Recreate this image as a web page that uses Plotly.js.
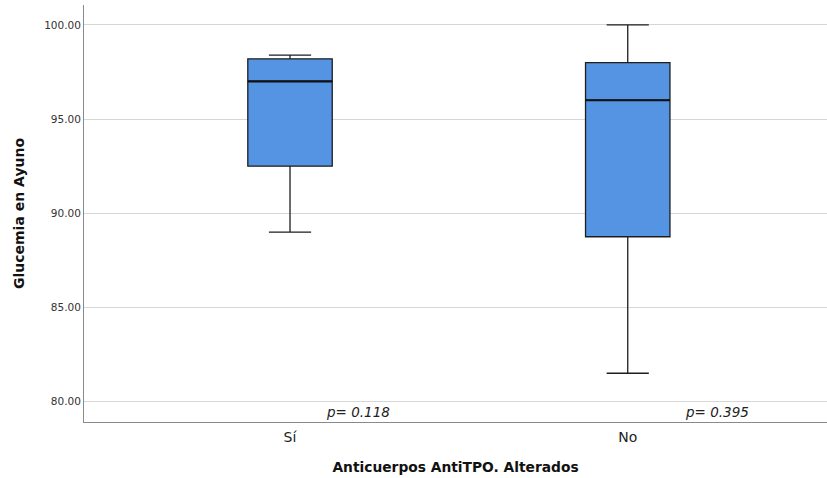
<!DOCTYPE html>
<html>
<head>
<meta charset="utf-8">
<script src="https://cdn.plot.ly/plotly-3.0.1.min.js"></script>
<style>
  html, body { margin: 0; padding: 0; background: #fff; }
  #chart { width: 827px; height: 478px; }
</style>
</head>
<body>
<div id="chart"></div>
<script>
// Glucemia en ayuno por grupo de anticuerpos AntiTPO alterados
const groups      = ['Sí', 'No'];
const groupPos    = [0, 1];
const lowerFence  = [89.0, 81.5];
const q1          = [92.5, 88.75];
const medians     = [97.0, 96.0];
const q3          = [98.2, 98.0];
const upperFence  = [98.4, 100.0];
const pValues     = ['0.118', '0.395'];
const yTicks      = [80, 85, 90, 95, 100];

const boxWidth = 0.25;
const fillColor = '#5594e3';

const boxTrace = {
  type: 'box',
  x: groupPos,
  q1: q1,
  median: medians,
  q3: q3,
  lowerfence: lowerFence,
  upperfence: upperFence,
  width: boxWidth,
  whiskerwidth: 0.5,
  fillcolor: fillColor,
  line: { color: '#1e1e1e', width: 1.3 },
  boxpoints: false,
  hoverinfo: 'skip',
  showlegend: false
};

// Thicker median bars drawn on top of each box
const medX = [], medY = [];
groupPos.forEach((p, i) => {
  medX.push(p - boxWidth / 2, p + boxWidth / 2, null);
  medY.push(medians[i], medians[i], null);
});
const medianTrace = {
  type: 'scatter',
  mode: 'lines',
  x: medX,
  y: medY,
  line: { color: '#111', width: 2.2 },
  hoverinfo: 'skip',
  showlegend: false
};

const pOffsets = [0.2, 0.265];
const annotations = groupPos.map((p, i) => ({
  x: p + pOffsets[i],
  y: 79.44,
  xref: 'x', yref: 'y',
  text: 'p= ' + pValues[i],
  showarrow: false,
  font: { family: 'DejaVu Sans', size: 13.5, color: '#222', style: 'italic' }
}));

const layout = {
  width: 827,
  height: 478,
  margin: { l: 84, r: 0, t: 5, b: 56 },
  paper_bgcolor: '#fff',
  plot_bgcolor: '#fff',
  font: { family: 'DejaVu Sans', color: '#222' },
  xaxis: {
    range: [-0.61, 1.59],
    tickvals: groupPos,
    ticktext: groups,
    ticks: 'outside',
    ticklen: 2,
    tickcolor: 'rgba(0,0,0,0)',
    showgrid: false,
    zeroline: false,
    showline: true,
    linecolor: '#8a8a8a',
    linewidth: 1,
    tickfont: { size: 14, color: '#222' },
    title: {
      text: '<b>Anticuerpos AntiTPO. Alterados</b>',
      font: { size: 13.8, color: '#111' },
      standoff: 18
    }
  },
  yaxis: {
    range: [78.91, 101.06],
    tickvals: yTicks,
    ticktext: yTicks.map(v => v.toFixed(2)),
    ticks: '',
    showgrid: true,
    gridcolor: '#d6d6d6',
    gridwidth: 1,
    zeroline: false,
    showline: true,
    linecolor: '#8a8a8a',
    linewidth: 1,
    tickfont: { size: 10.5, color: '#333' },
    title: {
      text: '<b>Glucemia en Ayuno</b>',
      font: { size: 14, color: '#111' },
      standoff: 16
    }
  },
  annotations: annotations
};

Plotly.newPlot('chart', [boxTrace, medianTrace], layout, { displayModeBar: false, staticPlot: true });
</script>
</body>
</html>
